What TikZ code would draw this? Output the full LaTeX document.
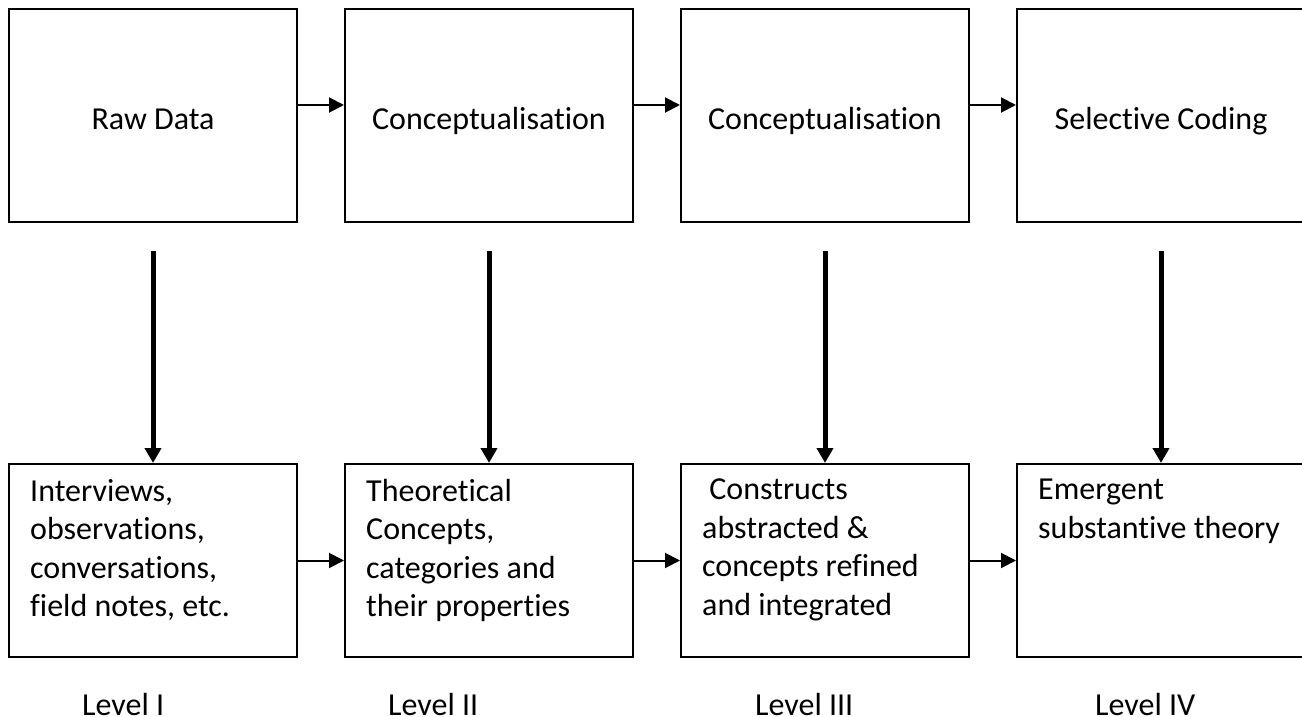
\documentclass[tikz,border=0pt]{standalone}
\usepackage{fontspec}
\setmainfont{Carlito}[Ligatures=NoCommon]
\usetikzlibrary{arrows.meta}
\begin{document}
\begin{tikzpicture}[x=1pt,y=-1pt,
  stage/.style={draw=black,line width=2pt,minimum width=288pt,minimum height=213pt,
    inner sep=0pt,anchor=north west,font=\fontsize{32}{38.5}\selectfont,
    text height=27pt,text depth=0pt},
  outcome/.style={draw=black,line width=2pt,minimum width=288pt,minimum height=193pt,
    inner sep=0pt,anchor=north west},
  desc/.style={anchor=north west,inner sep=0pt,align=left,
    font=\fontsize{32}{38.5}\selectfont,execute at begin node={\rule{0pt}{27pt}}},
  level/.style={anchor=base west,inner sep=0pt,font=\fontsize{32}{38.5}\selectfont},
  flow/.style={-{Triangle[length=15pt,width=15pt]},line width=2pt},
  drop/.style={-{Triangle[length=15pt,width=16pt]},line width=5pt},
]
\useasboundingbox (0,0) rectangle (1302,717);

% upper row: coding stages
\node[stage] (t1) at (8,8)    {Raw Data};
\node[stage] (t2) at (344,8)  {Conceptualisation};
\node[stage] (t3) at (680,8)  {Conceptualisation};
\node[stage] (t4) at (1016,8) {Selective Coding};

% lower row: outcome of each stage
\node[outcome] (b1) at (8,463)    {};
\node[outcome] (b2) at (344,463)  {};
\node[outcome] (b3) at (680,463)  {};
\node[outcome] (b4) at (1016,463) {};

\node[desc] (d1) at ([xshift=22pt,yshift=-16pt]b1.north west)
  {Interviews,\\observations,\\conversations,\\field notes, etc.};
\node[desc] (d2) at ([xshift=22pt,yshift=-16pt]b2.north west)
  {Theoretical\\Concepts,\\categories and\\their properties};
\node[desc] (d3) at ([xshift=22pt,yshift=-16pt]b3.north west)
  {\ Constructs\\abstracted \&\\concepts refined\\and integrated};
\node[desc] (d4) at ([xshift=22pt,yshift=-16pt]b4.north west)
  {Emergent\\substantive theory};

% level captions
\node[level] (l1) at (82,715)   {Level I};
\node[level] (l2) at (388,715)  {Level II};
\node[level] (l3) at (755,715)  {Level III};
\node[level] (l4) at (1095,715) {Level IV};

% horizontal flow
\draw[flow] ([yshift=10.5pt]t1.east) -- ([yshift=10.5pt]t2.west);
\draw[flow] ([yshift=10.5pt]t2.east) -- ([yshift=10.5pt]t3.west);
\draw[flow] ([yshift=10.5pt]t3.east) -- ([yshift=10.5pt]t4.west);
\draw[flow] (b1.east) -- (b2.west);
\draw[flow] (b2.east) -- (b3.west);
\draw[flow] (b3.east) -- (b4.west);

% vertical links between rows
\draw[drop] ([yshift=-28pt]t1.south) -- (b1.north);
\draw[drop] ([yshift=-28pt]t2.south) -- (b2.north);
\draw[drop] ([yshift=-28pt]t3.south) -- (b3.north);
\draw[drop] ([yshift=-28pt]t4.south) -- (b4.north);
\end{tikzpicture}
\end{document}
